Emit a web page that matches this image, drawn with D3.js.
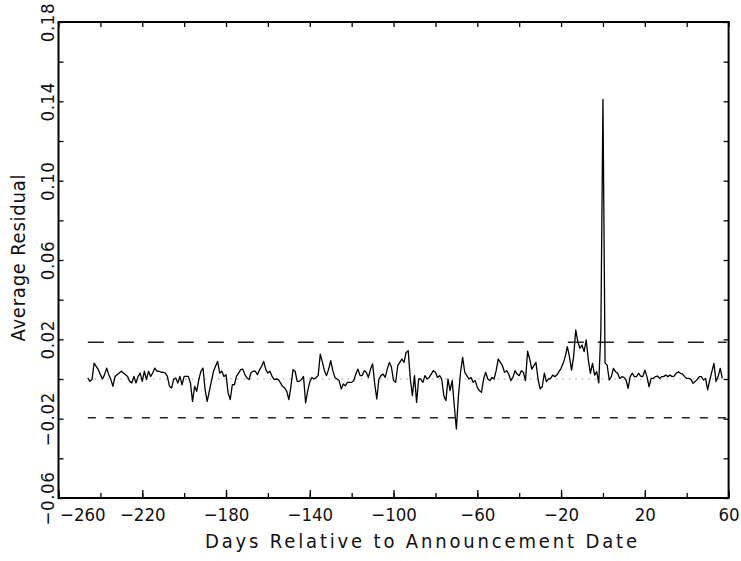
<!DOCTYPE html>
<html>
<head>
<meta charset="utf-8">
<script src="https://cdn.jsdelivr.net/npm/d3@7"></script>
<style>
  body { margin: 0; background: #fff; }
  text { font-family: "DejaVu Sans Condensed", "Liberation Sans Narrow", sans-serif; fill: #111; }
</style>
</head>
<body>
<script>
// Chart data: average residual per day around the announcement date
var firstDay = -246;
var lastDay = 57;
var residuals = [
  0.0005,-0.0012,-0.0003,0.0080,0.0064,0.0047,0.0022,0.0000,0.0022,0.0055,
  0.0022,-0.0003,-0.0037,0.0013,0.0022,0.0030,0.0039,0.0030,0.0022,0.0013,
  -0.0012,-0.0020,0.0013,-0.0020,0.0013,0.0030,-0.0012,0.0039,-0.0003,0.0039,
  0.0013,0.0030,0.0055,0.0039,0.0039,0.0034,0.0034,0.0030,0.0013,-0.0037,
  -0.0045,-0.0003,0.0005,-0.0020,0.0013,-0.0029,0.0013,0.0013,0.0013,-0.0020,
  -0.0113,-0.0037,-0.0062,-0.0003,0.0039,0.0055,-0.0054,-0.0113,-0.0062,-0.0012,
  0.0039,0.0064,0.0089,0.0030,0.0039,0.0013,0.0022,-0.0070,-0.0104,-0.0029,
  -0.0029,0.0013,0.0030,0.0047,0.0050,0.0022,0.0005,-0.0003,0.0034,0.0039,
  0.0039,0.0022,0.0047,0.0064,0.0089,0.0047,0.0030,0.0039,0.0013,-0.0003,
  0.0000,-0.0003,-0.0020,-0.0037,-0.0045,-0.0062,-0.0104,-0.0037,0.0047,0.0039,
  -0.0012,-0.0012,-0.0003,0.0013,-0.0120,-0.0060,-0.0015,0.0008,0.0000,0.0008,
  0.0017,0.0125,0.0085,0.0042,0.0017,0.0050,0.0092,0.0042,0.0008,0.0000,
  -0.0008,-0.0050,-0.0025,-0.0034,-0.0017,-0.0017,-0.0017,-0.0008,0.0025,0.0050,
  0.0017,0.0017,0.0042,0.0034,0.0008,0.0050,0.0076,-0.0025,-0.0101,0.0000,
  0.0017,0.0025,0.0008,0.0050,0.0084,0.0059,-0.0008,-0.0017,0.0067,0.0084,
  0.0101,0.0084,0.0134,0.0143,0.0000,-0.0084,0.0017,-0.0118,0.0000,0.0000,
  -0.0017,0.0017,0.0000,0.0008,0.0025,0.0042,0.0034,0.0008,0.0017,0.0000,
  -0.0084,-0.0109,0.0000,-0.0059,-0.0008,-0.0134,-0.0252,-0.0084,0.0034,0.0109,
  0.0034,0.0017,0.0000,0.0008,-0.0017,-0.0008,-0.0042,-0.0059,-0.0067,0.0000,
  0.0034,0.0000,-0.0008,0.0008,0.0000,0.0042,0.0101,0.0084,0.0067,0.0034,
  0.0042,0.0025,-0.0008,0.0008,0.0042,0.0025,0.0017,0.0042,0.0034,-0.0008,
  0.0140,0.0101,0.0050,0.0067,0.0084,0.0000,-0.0050,-0.0039,0.0029,-0.0013,
  0.0000,0.0003,0.0020,0.0012,0.0020,0.0037,0.0054,0.0079,0.0113,0.0163,
  0.0113,0.0045,0.0113,0.0247,0.0188,0.0155,0.0171,0.0138,0.0197,0.0096,
  0.0029,0.0079,0.0020,0.0037,-0.0020,0.0240,0.1410,0.0080,0.0070,-0.0005,
  0.0012,0.0054,0.0037,0.0029,0.0003,0.0012,0.0008,-0.0005,-0.0047,0.0012,
  0.0029,0.0012,0.0012,0.0029,0.0015,0.0012,0.0045,0.0012,-0.0039,0.0003,
  0.0003,0.0012,0.0015,0.0003,0.0012,0.0012,0.0020,0.0012,0.0020,0.0012,
  0.0015,0.0029,0.0037,0.0029,0.0025,0.0012,0.0003,0.0003,-0.0002,-0.0022,
  -0.0013,-0.0002,0.0012,0.0012,-0.0005,0.0003,-0.0055,-0.0005,0.0037,0.0079,
  -0.0013,0.0012,0.0054,0.0003
];

// Dashed bands and the zero reference
var upperBand = 0.0185;
var lowerBand = -0.0196;
var bandDays = [-246, 59];

// Tick values
var xMajorTicks = [-260, -220, -180, -140, -100, -60, -20, 20, 60];
var xMinorTicks = [-260, -240, -220, -200, -180, -160, -140, -120, -100, -80, -60, -40, -20, 0, 20, 40, 60];
var yTicks = [-0.06, -0.04, -0.02, 0, 0.02, 0.04, 0.06, 0.08, 0.10, 0.12, 0.14, 0.16, 0.18];
var yLabelTicks = [-0.06, -0.02, 0.02, 0.06, 0.10, 0.14, 0.18];

// SVG area
var svgWidth = 741;
var svgHeight = 561;
var margin = { top: 22, right: 12.4, bottom: 63, left: 58.5 };
var chartWidth = svgWidth - margin.left - margin.right;
var chartHeight = svgHeight - margin.top - margin.bottom;

var svg = d3.select("body")
  .append("svg")
  .attr("width", svgWidth)
  .attr("height", svgHeight);

var chartGroup = svg.append("g")
  .attr("transform", `translate(${margin.left}, ${margin.top})`);

var xScale = d3.scaleLinear().domain([-260, 60]).range([0, chartWidth]);
var yScale = d3.scaleLinear().domain([-0.06, 0.18]).range([chartHeight, 0]);

var series = residuals.map(function(v, i) { return { day: firstDay + i, value: v }; });

var minus = function(n) { return n < 0 ? "\u2212" + Math.abs(n) : String(n); };
var fmtY = function(v) { var s = Math.abs(v).toFixed(2); return v < 0 ? "\u2212" + s : s; };

// reference lines
var hLine = d3.line().x(d => xScale(d[0])).y(d => yScale(d[1]));

chartGroup.append("path")
  .attr("d", hLine([[firstDay, 0], [lastDay, 0]]))
  .attr("stroke", "#999")
  .attr("stroke-width", 1)
  .attr("stroke-dasharray", "1.5,5")
  .attr("fill", "none");

chartGroup.append("path")
  .attr("d", hLine(bandDays.map(d => [d, upperBand])))
  .attr("stroke", "#222")
  .attr("stroke-width", 1.5)
  .attr("stroke-dasharray", "16,14")
  .attr("fill", "none");

chartGroup.append("path")
  .attr("d", hLine(bandDays.map(d => [d, lowerBand])))
  .attr("stroke", "#222")
  .attr("stroke-width", 1.5)
  .attr("stroke-dasharray", "8,10")
  .attr("fill", "none");

// residual line
var drawLine = d3.line()
  .x(d => xScale(d.day))
  .y(d => yScale(d.value));

chartGroup.append("path")
  .attr("d", drawLine(series))
  .attr("stroke", "#000")
  .attr("stroke-width", 1.3)
  .attr("stroke-linejoin", "round")
  .attr("fill", "none");

// axes: inward ticks on all four sides
function styleAxis(g) {
  g.select(".domain").remove();
  g.selectAll("line").attr("stroke", "#000").attr("stroke-width", 1.3);
}

chartGroup.append("g")
  .attr("transform", `translate(0, ${chartHeight})`)
  .call(d3.axisBottom(xScale).tickValues(xMinorTicks).tickSize(-5).tickFormat(""))
  .call(styleAxis);

var bottomAxis = chartGroup.append("g")
  .attr("transform", `translate(0, ${chartHeight})`)
  .call(d3.axisBottom(xScale).tickValues(xMajorTicks).tickSize(-8).tickPadding(10).tickFormat(minus))
  .call(styleAxis);
bottomAxis.selectAll("text")
  .attr("font-size", 18.5)
  .attr("font-family", null)
  .filter(d => d === -260)
  .attr("text-anchor", "start")
  .attr("x", 1);

chartGroup.append("g")
  .call(d3.axisTop(xScale).tickValues(xMinorTicks).tickSize(-5).tickFormat(""))
  .call(styleAxis);

var leftAxis = chartGroup.append("g")
  .call(d3.axisLeft(yScale).tickValues(yTicks).tickSize(-5)
    .tickFormat(v => yLabelTicks.some(t => Math.abs(t - v) < 1e-9) ? fmtY(v) : ""))
  .call(styleAxis);
leftAxis.selectAll("text")
  .attr("font-size", 18.5)
  .attr("font-family", null)
  .attr("letter-spacing", 0.6)
  .attr("text-anchor", "middle")
  .attr("transform", "rotate(-90)")
  .attr("x", 0)
  .attr("y", -5)
  .attr("dy", null);

chartGroup.append("g")
  .attr("transform", `translate(${chartWidth}, 0)`)
  .call(d3.axisRight(yScale).tickValues(yTicks).tickSize(-5).tickFormat(""))
  .call(styleAxis);

// frame
chartGroup.append("rect")
  .attr("width", chartWidth)
  .attr("height", chartHeight)
  .attr("fill", "none")
  .attr("stroke", "#000")
  .attr("stroke-width", 2);

// axis titles
svg.append("text")
  .attr("x", 421)
  .attr("y", 548)
  .attr("text-anchor", "middle")
  .attr("font-size", 20)
  .attr("textLength", 432)
  .attr("lengthAdjust", "spacing")
  .text("Days Relative to Announcement Date");

svg.append("text")
  .attr("transform", "translate(24.5, 258) rotate(-90)")
  .attr("text-anchor", "middle")
  .attr("font-size", 20)
  .attr("textLength", 167)
  .attr("lengthAdjust", "spacing")
  .text("Average Residual");
</script>
</body>
</html>
